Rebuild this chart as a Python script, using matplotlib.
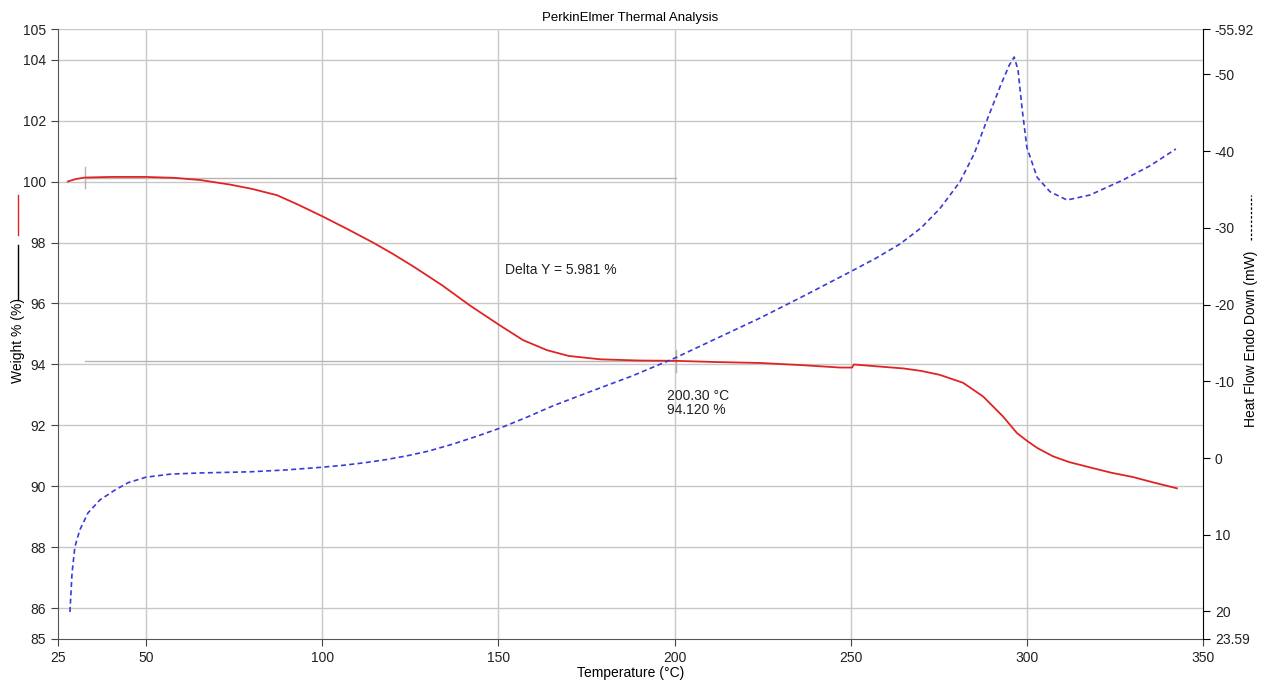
import numpy as np
import matplotlib
matplotlib.use("Agg")
import matplotlib.pyplot as plt
from matplotlib.lines import Line2D

plt.rcParams["font.family"] = ["Liberation Sans", "DejaVu Sans"]

# ── Courbe ATG (poids %) ─────────────────────────────────────────────────────
temp_w = [27.8, 30.0, 32.7, 40.0, 50.0, 58.0, 65.3, 73.8, 80.0, 87.2, 93.0, 100.2,
          107.0, 114.4, 120.0, 125.8, 134.0, 142.0, 150.2, 157.0, 163.8, 170.0,
          178.9, 190.0, 200.1, 212.0, 224.3, 236.0, 247.0, 250.4, 250.9, 256.3,
          265.0, 270.0, 275.3, 281.9, 287.6, 293.2, 297.2, 300.0, 303.0, 307.4, 312.0,
          318.8, 324.0, 330.1, 336.0, 342.6]
weight = [100.0, 100.08, 100.13, 100.15, 100.15, 100.12, 100.05, 99.9, 99.76, 99.55,
          99.25, 98.85, 98.45, 98.0, 97.63, 97.22, 96.6, 95.93, 95.3, 94.8, 94.47, 94.28,
          94.17, 94.13, 94.12, 94.08, 94.05, 93.98, 93.9, 93.9, 94.0, 93.95,
          93.87, 93.79, 93.66, 93.4, 92.95, 92.3, 91.75, 91.5, 91.26, 90.99, 90.8,
          90.6, 90.45, 90.31, 90.13, 89.94]

# ── Courbe DSC (flux de chaleur mW) ──────────────────────────────────────────
temp_h = [28.4, 29.0, 29.8, 31.2, 33.5, 36.9, 41.2, 45.0, 50.0, 57.0, 65.3, 79.5,
          90.0, 100.0, 106.0, 112.0, 118.0, 124.0, 130.0, 137.0, 144.0, 150.5,
          158.0, 165.5, 175.2, 188.0, 200.1, 212.0, 224.3, 237.0, 249.8, 257.0,
          264.0, 270.0, 275.3, 281.0, 285.0, 288.7, 292.4, 295.0, 296.4, 297.5,
          298.6, 300.0, 302.9, 306.6, 311.4, 317.9, 327.3, 335.0, 342.3]
heat = [20.07, 14.99, 11.6, 9.38, 7.17, 5.47, 4.17, 3.2, 2.5, 2.1, 1.95, 1.8,
        1.55, 1.2, 0.95, 0.62, 0.22, -0.28, -0.88, -1.8, -2.85, -3.9,
        -5.3, -6.8, -8.5, -10.7, -13.03, -15.6, -18.25, -21.2, -24.25, -26.0,
        -27.9, -30.0, -32.5, -36.0, -39.6, -44.06, -48.4, -51.2, -52.27, -50.58,
        -45.75, -40.5, -36.6, -34.7, -33.63, -34.28, -36.24, -38.1, -40.28]

x_ticks = [25, 50, 100, 150, 200, 250, 300, 350]
w_ticks = [85, 86, 88, 90, 92, 94, 96, 98, 100, 102, 104, 105]
h_ticks = [-55.92, -50, -40, -30, -20, -10, 0, 10, 20, 23.59]
h_labels = ["-55.92", "-50", "-40", "-30", "-20", "-10", "0", "10", "20", "23.59"]

# marqueurs Delta Y
delta_start = (32.6, 100.13)
delta_end = (200.30, 94.120)

fig = plt.figure(figsize=(12.71, 6.91), dpi=100)
ax = fig.add_axes([0.0456, 0.0753, 0.9009, 0.8827])
ax2 = ax.twinx()

grid_c = "#c8c8c8"
ax.set_xlim(25, 350)
ax.set_ylim(85, 105)
ax.set_xticks(x_ticks)
ax.set_yticks(w_ticks)
for t in x_ticks[1:-1]:
    ax.axvline(t, color=grid_c, lw=1.0, zorder=0)
for t in w_ticks[1:]:
    ax.axhline(t, color=grid_c, lw=1.0, zorder=0)

# lignes de mesure
ax.plot([delta_start[0], delta_end[0]], [delta_start[1], delta_start[1]], color="#b4b4b4", lw=1.0, zorder=1)
ax.plot([delta_start[0], delta_end[0]], [delta_end[1], delta_end[1]], color="#b4b4b4", lw=1.0, zorder=1)
ax.plot([delta_start[0]] * 2, [delta_start[1] - 0.35, delta_start[1] + 0.35], color="#b4b4b4", lw=1.0)
ax.plot([delta_end[0]] * 2, [delta_end[1] - 0.35, delta_end[1] + 0.35], color="#b4b4b4", lw=1.0)

ax.plot(temp_w, weight, color="#e02424", lw=1.3, zorder=3)

ax.text(151.8, 97.1, "Delta Y = 5.981 %", fontsize=10, color="#222222", va="center", ha="left")
ax.text(197.8, 93.2, "200.30 \u00b0C\n94.120 %", fontsize=10, color="#222222",
        va="top", ha="left", linespacing=1.0)

ax.set_xlabel("Temperature (\u00b0C)", fontsize=10, labelpad=1)
ax.set_title("PerkinElmer Thermal Analysis", fontsize=9.5, pad=6)

ax2.plot(temp_h, heat, color="#3a3ad8", lw=1.2, ls=(0, (3, 2)), zorder=3)
ax2.set_ylim(23.59, -55.92)
ax2.set_yticks(h_ticks)
ax2.set_yticklabels(h_labels)

for a in (ax, ax2):
    a.spines["top"].set_visible(False)
    a.tick_params(labelsize=10, length=5, color="#444444", labelcolor="#222222")
ax.spines["left"].set_color("#555555")
ax.spines["bottom"].set_color("#555555")
ax.spines["right"].set_visible(False)
ax2.spines["left"].set_visible(False)
ax2.spines["bottom"].set_visible(False)
ax2.spines["right"].set_color("black")
ax2.tick_params(color="black")

# étiquettes d'axes avec les segments de légende
fig.text(0.014, 0.507, "Weight % (%)", rotation=90, fontsize=10, ha="center", va="center")
fig.add_artist(Line2D([0.014, 0.014], [0.66, 0.718], color="#e02424", lw=1.0))
fig.add_artist(Line2D([0.014, 0.014], [0.566, 0.645], color="black", lw=1.0))
fig.text(0.984, 0.509, "Heat Flow Endo Down (mW)", rotation=90, fontsize=10, ha="center", va="center")
fig.add_artist(Line2D([0.984, 0.984], [0.652, 0.718], color="black", lw=0.9, ls=(0, (2, 1.5))))

fig.savefig("out.png", dpi=100)
